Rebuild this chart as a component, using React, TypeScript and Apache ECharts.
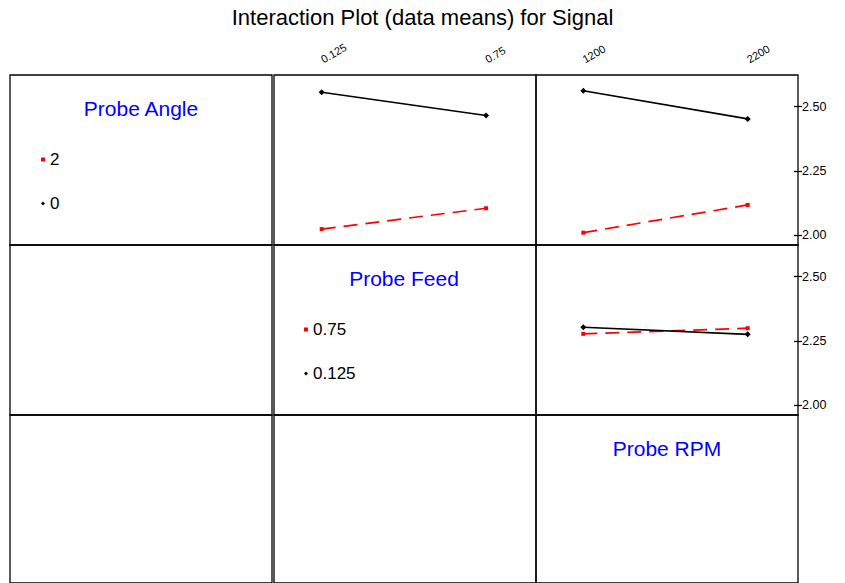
import React, { useEffect, useRef } from "react";
import * as echarts from "echarts";

// Factor levels (x axes / legends)
const feedLevels = [0.125, 0.75];
const rpmLevels = [1200, 2200];
const angleLegend = ["2", "0"];
const feedLegend = ["0.75", "0.125"];
const yTicks = [2.0, 2.25, 2.5];

// Means: Probe Angle x Probe Feed
const angleFeedAngle2 = [2.023, 2.104];
const angleFeedAngle0 = [2.556, 2.465];
// Means: Probe Angle x Probe RPM
const angleRpmAngle2 = [2.009, 2.117];
const angleRpmAngle0 = [2.562, 2.452];
// Means: Probe Feed x Probe RPM
const feedRpmFeed075 = [2.277, 2.299];
const feedRpmFeed0125 = [2.303, 2.275];

const FONT = "'Liberation Sans', Arial, sans-serif";
const colLeft = [10, 274, 536];
const rowTop = [75, 245, 415];
const cellW = 262;
const cellH = 170;
const yMin = 1.961;
const yMax = 2.623;
const xRange = [
  [0, 1],
  [-0.0564, 0.94],
  [912.3, 2506],
];

function buildOption() {
  const grids: any[] = [];
  const xAxes: any[] = [];
  const yAxes: any[] = [];
  for (let r = 0; r < 3; r++) {
    for (let c = 0; c < 3; c++) {
      const i = r * 3 + c;
      grids.push({
        left: colLeft[c],
        top: rowTop[r],
        width: cellW,
        height: cellH,
        show: true,
        borderColor: "#000",
        borderWidth: 1.3,
        backgroundColor: "transparent",
        containLabel: false,
      });
      const topLabels = r === 0 && c > 0;
      xAxes.push({
        type: "value",
        gridIndex: i,
        min: xRange[c][0],
        max: xRange[c][1],
        position: "top",
        show: topLabels,
        axisLine: { show: false },
        axisTick: { show: false },
        splitLine: { show: false },
        axisLabel: {
          show: topLabels,
          customValues: c === 1 ? feedLevels : rpmLevels,
          formatter: (v: number) => String(v),
          rotate: -30,
          fontSize: 11,
          color: "#000",
          margin: 15,
          fontFamily: FONT,
        },
      });
      const rightAxis = c === 2 && r < 2;
      yAxes.push({
        type: "value",
        gridIndex: i,
        min: yMin,
        max: yMax,
        position: "right",
        show: rightAxis,
        axisLine: { show: false },
        splitLine: { show: false },
        axisTick: {
          show: rightAxis,
          customValues: yTicks,
          length: 4,
          lineStyle: { color: "#000", width: 1.3 },
        },
        axisLabel: {
          show: rightAxis,
          customValues: yTicks,
          formatter: (v: number) => v.toFixed(2),
          fontSize: 12.5,
          color: "#000",
          margin: 4,
          fontFamily: FONT,
        },
      });
    }
  }
  // inside ticks for the crossing tick marks
  [2, 5].forEach((g) => {
    yAxes.push({
      type: "value",
      gridIndex: g,
      min: yMin,
      max: yMax,
      position: "right",
      axisLine: { show: false },
      splitLine: { show: false },
      axisTick: {
        show: true,
        inside: true,
        customValues: yTicks,
        length: 4,
        lineStyle: { color: "#000", width: 1.3 },
      },
      axisLabel: { show: false },
    });
  });

  const mk = (name: string, xs: number[], ys: number[], g: number, red: boolean) => ({
    type: "line",
    name,
    xAxisIndex: g,
    yAxisIndex: g,
    data: xs.map((x, k) => [x, ys[k]]),
    symbol: red ? "rect" : "diamond",
    symbolSize: red ? 4 : 6,
    showSymbol: true,
    lineStyle: red
      ? { color: "#ff0000", width: 1.7, type: [14, 8] }
      : { color: "#000", width: 1.6, type: "solid" },
    itemStyle: { color: red ? "#ff0000" : "#000" },
    emphasis: { disabled: true },
  });

  const series = [
    mk(angleLegend[0], feedLevels, angleFeedAngle2, 1, true),
    mk(angleLegend[1], feedLevels, angleFeedAngle0, 1, false),
    mk(angleLegend[0], rpmLevels, angleRpmAngle2, 2, true),
    mk(angleLegend[1], rpmLevels, angleRpmAngle0, 2, false),
    mk(feedLegend[0], rpmLevels, feedRpmFeed075, 5, true),
    mk(feedLegend[1], rpmLevels, feedRpmFeed0125, 5, false),
  ];

  const legendBase = {
    orient: "vertical",
    itemWidth: 4,
    itemHeight: 4,
    itemGap: 27,
    padding: 0,
    selectedMode: false,
    textStyle: { fontSize: 17, color: "#000", fontFamily: FONT },
  };

  const cellTitle = (text: string, x: number, y: number) => ({
    text,
    left: x,
    top: y,
    textAlign: "center",
    padding: 0,
    textStyle: { fontSize: 21, fontWeight: "normal", color: "#0000ff", fontFamily: FONT },
  });

  return {
    animation: false,
    backgroundColor: "#fff",
    textStyle: { fontFamily: FONT },
    title: [
      {
        text: "Interaction Plot (data means) for Signal",
        left: "center",
        top: 6,
        padding: 0,
        textStyle: { fontSize: 22, fontWeight: "normal", color: "#000", fontFamily: FONT },
      },
      cellTitle("Probe Angle", 141, 98),
      cellTitle("Probe Feed", 404, 268),
      cellTitle("Probe RPM", 667, 438),
    ],
    legend: [
      {
        ...legendBase,
        left: 41,
        top: 151,
        data: [
          { name: angleLegend[0], icon: "rect" },
          { name: angleLegend[1], icon: "diamond" },
        ],
      },
      {
        ...legendBase,
        left: 304,
        top: 321,
        data: [
          { name: feedLegend[0], icon: "rect" },
          { name: feedLegend[1], icon: "diamond" },
        ],
      },
    ],
    grid: grids,
    xAxis: xAxes,
    yAxis: yAxes,
    series,
  };
}

export default function App() {
  const ref = useRef<HTMLDivElement>(null);
  useEffect(() => {
    document.body.style.margin = "0";
    if (!ref.current) return;
    const chart = echarts.init(ref.current, undefined, { renderer: "svg" });
    chart.setOption(buildOption() as any);
    return () => chart.dispose();
  }, []);
  return <div ref={ref} style={{ width: 845, height: 583 }} />;
}
